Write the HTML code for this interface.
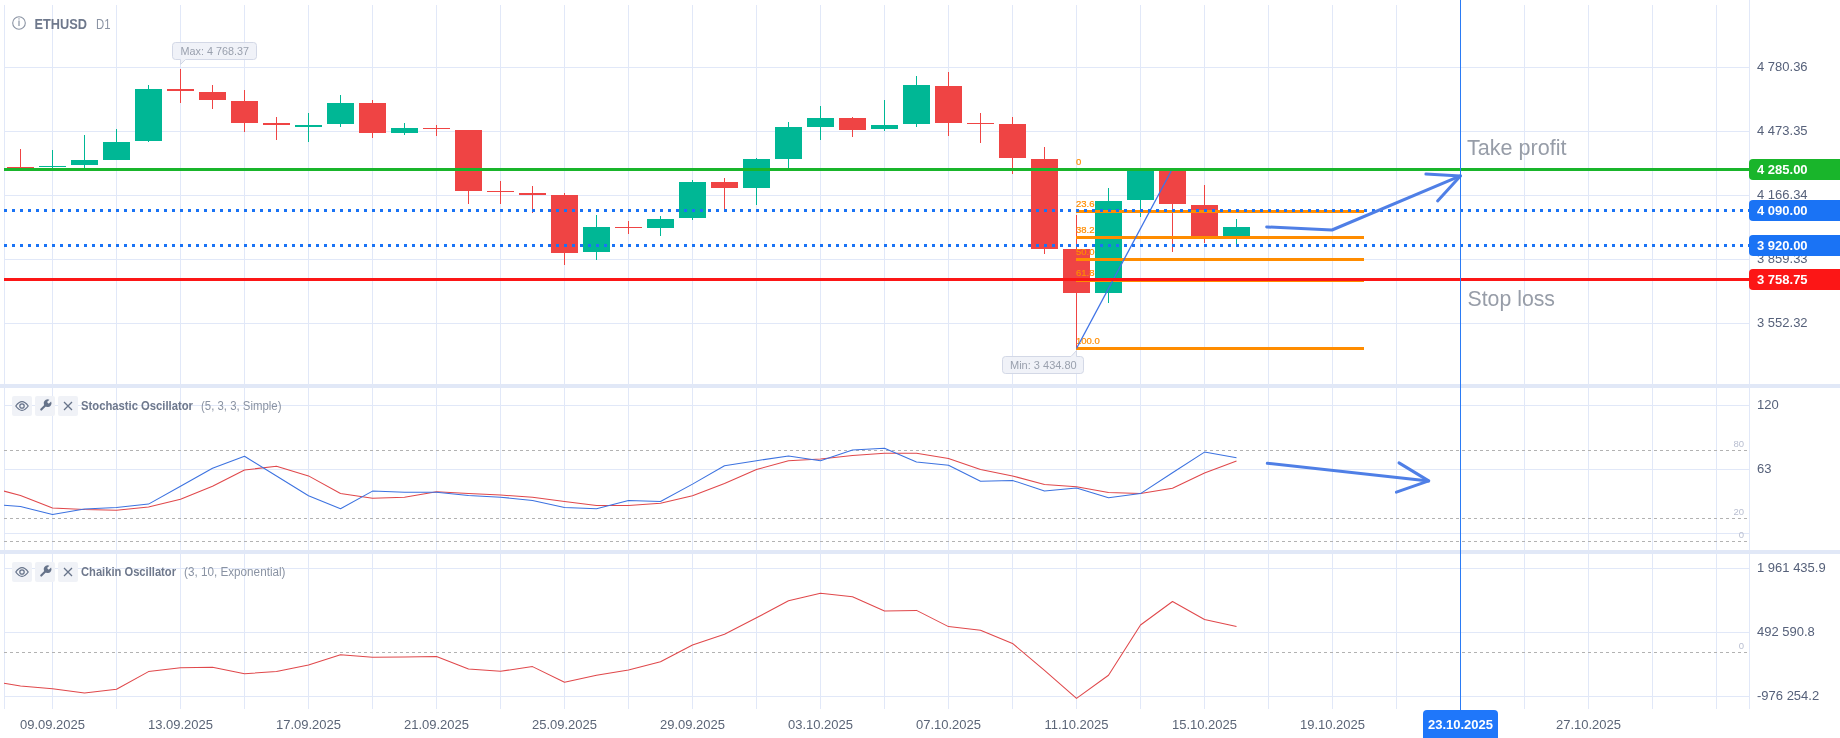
<!DOCTYPE html><html><head><meta charset="utf-8"><style>
html,body{margin:0;padding:0;background:#fff;width:1840px;height:738px;overflow:hidden}
svg{display:block;will-change:transform}
text{font-family:"Liberation Sans", sans-serif}
</style></head><body>
<svg width="1840" height="738" viewBox="0 0 1840 738">
<rect x="0" y="0" width="1840" height="738" fill="#ffffff"/>
<defs>
<clipPath id="cMain"><rect x="4" y="0" width="1745" height="384"/></clipPath>
<clipPath id="cSt"><rect x="4" y="388" width="1745" height="162"/></clipPath>
<clipPath id="cCh"><rect x="4" y="554" width="1745" height="154"/></clipPath>
</defs>
<g shape-rendering="crispEdges" fill="#e1e8f8">
<rect x="4" y="5" width="1" height="704"/>
<rect x="52" y="5" width="1" height="704"/>
<rect x="116" y="5" width="1" height="704"/>
<rect x="180" y="5" width="1" height="704"/>
<rect x="244" y="5" width="1" height="704"/>
<rect x="308" y="5" width="1" height="704"/>
<rect x="372" y="5" width="1" height="704"/>
<rect x="436" y="5" width="1" height="704"/>
<rect x="500" y="5" width="1" height="704"/>
<rect x="564" y="5" width="1" height="704"/>
<rect x="628" y="5" width="1" height="704"/>
<rect x="692" y="5" width="1" height="704"/>
<rect x="756" y="5" width="1" height="704"/>
<rect x="820" y="5" width="1" height="704"/>
<rect x="884" y="5" width="1" height="704"/>
<rect x="948" y="5" width="1" height="704"/>
<rect x="1012" y="5" width="1" height="704"/>
<rect x="1076" y="5" width="1" height="704"/>
<rect x="1140" y="5" width="1" height="704"/>
<rect x="1204" y="5" width="1" height="704"/>
<rect x="1268" y="5" width="1" height="704"/>
<rect x="1332" y="5" width="1" height="704"/>
<rect x="1396" y="5" width="1" height="704"/>
<rect x="1460" y="5" width="1" height="704"/>
<rect x="1524" y="5" width="1" height="704"/>
<rect x="1588" y="5" width="1" height="704"/>
<rect x="1652" y="5" width="1" height="704"/>
<rect x="1716" y="5" width="1" height="704"/>
<rect x="1749" y="0" width="1" height="709"/>
<rect x="4" y="67" width="1745" height="1"/>
<rect x="4" y="131" width="1745" height="1"/>
<rect x="4" y="195" width="1745" height="1"/>
<rect x="4" y="259" width="1745" height="1"/>
<rect x="4" y="323" width="1745" height="1"/>
<rect x="4" y="405" width="1745" height="1"/>
<rect x="4" y="469" width="1745" height="1"/>
<rect x="4" y="533" width="1745" height="1"/>
<rect x="4" y="568" width="1745" height="1"/>
<rect x="4" y="632" width="1745" height="1"/>
<rect x="4" y="696" width="1745" height="1"/>
</g>
<rect x="0" y="384" width="1840" height="4" fill="#e1e8f7" shape-rendering="crispEdges"/>
<rect x="0" y="550" width="1840" height="4" fill="#e1e8f7" shape-rendering="crispEdges"/>
<g clip-path="url(#cMain)" shape-rendering="crispEdges">
<rect x="7" y="167.0" width="27" height="1.0" fill="#ef4444"/>
<rect x="20" y="149.1" width="1" height="18.9" fill="#ef4444"/>
<rect x="39" y="166.0" width="27" height="1.0" fill="#00b795"/>
<rect x="52" y="150.0" width="1" height="19.0" fill="#00b795"/>
<rect x="71" y="160.0" width="27" height="5.0" fill="#00b795"/>
<rect x="84" y="135.1" width="1" height="32.9" fill="#00b795"/>
<rect x="103" y="142.1" width="27" height="17.6" fill="#00b795"/>
<rect x="116" y="129.1" width="1" height="30.6" fill="#00b795"/>
<rect x="135" y="88.9" width="27" height="51.9" fill="#00b795"/>
<rect x="148" y="85.2" width="1" height="56.8" fill="#00b795"/>
<rect x="167" y="89.0" width="27" height="2.0" fill="#ef4444"/>
<rect x="180" y="69.0" width="1" height="33.8" fill="#ef4444"/>
<rect x="199" y="92.0" width="27" height="7.8" fill="#ef4444"/>
<rect x="212" y="85.2" width="1" height="23.7" fill="#ef4444"/>
<rect x="231" y="101.2" width="27" height="21.6" fill="#ef4444"/>
<rect x="244" y="89.9" width="1" height="41.8" fill="#ef4444"/>
<rect x="263" y="123.0" width="27" height="2.0" fill="#ef4444"/>
<rect x="276" y="116.9" width="1" height="23.1" fill="#ef4444"/>
<rect x="295" y="125.0" width="27" height="1.5" fill="#00b795"/>
<rect x="308" y="113.0" width="1" height="28.7" fill="#00b795"/>
<rect x="327" y="103.0" width="27" height="20.8" fill="#00b795"/>
<rect x="340" y="95.1" width="1" height="31.7" fill="#00b795"/>
<rect x="359" y="103.0" width="27" height="29.9" fill="#ef4444"/>
<rect x="372" y="100.0" width="1" height="37.9" fill="#ef4444"/>
<rect x="391" y="128.0" width="27" height="4.9" fill="#00b795"/>
<rect x="404" y="123.0" width="1" height="12.1" fill="#00b795"/>
<rect x="423" y="128.0" width="27" height="1.0" fill="#ef4444"/>
<rect x="436" y="125.0" width="1" height="11.0" fill="#ef4444"/>
<rect x="455" y="130.1" width="27" height="60.7" fill="#ef4444"/>
<rect x="468" y="130.1" width="1" height="73.7" fill="#ef4444"/>
<rect x="487" y="191.0" width="27" height="1.0" fill="#ef4444"/>
<rect x="500" y="180.9" width="1" height="22.9" fill="#ef4444"/>
<rect x="519" y="193.0" width="27" height="2.0" fill="#ef4444"/>
<rect x="532" y="186.0" width="1" height="26.6" fill="#ef4444"/>
<rect x="551" y="195.2" width="27" height="57.6" fill="#ef4444"/>
<rect x="564" y="193.1" width="1" height="71.9" fill="#ef4444"/>
<rect x="583" y="227.0" width="27" height="24.8" fill="#00b795"/>
<rect x="596" y="215.2" width="1" height="44.8" fill="#00b795"/>
<rect x="615" y="227.0" width="27" height="1.0" fill="#ef4444"/>
<rect x="628" y="220.9" width="1" height="13.0" fill="#ef4444"/>
<rect x="647" y="219.1" width="27" height="8.7" fill="#00b795"/>
<rect x="660" y="216.0" width="1" height="19.8" fill="#00b795"/>
<rect x="679" y="181.9" width="27" height="36.0" fill="#00b795"/>
<rect x="692" y="180.0" width="1" height="40.0" fill="#00b795"/>
<rect x="711" y="181.9" width="27" height="5.9" fill="#ef4444"/>
<rect x="724" y="177.9" width="1" height="31.7" fill="#ef4444"/>
<rect x="743" y="159.1" width="27" height="28.7" fill="#00b795"/>
<rect x="756" y="158.3" width="1" height="46.6" fill="#00b795"/>
<rect x="775" y="127.0" width="27" height="31.8" fill="#00b795"/>
<rect x="788" y="122.1" width="1" height="45.7" fill="#00b795"/>
<rect x="807" y="117.9" width="27" height="8.9" fill="#00b795"/>
<rect x="820" y="106.1" width="1" height="33.9" fill="#00b795"/>
<rect x="839" y="117.9" width="27" height="12.0" fill="#ef4444"/>
<rect x="852" y="116.9" width="1" height="20.1" fill="#ef4444"/>
<rect x="871" y="125.0" width="27" height="3.9" fill="#00b795"/>
<rect x="884" y="100.0" width="1" height="31.0" fill="#00b795"/>
<rect x="903" y="85.0" width="27" height="38.8" fill="#00b795"/>
<rect x="916" y="76.0" width="1" height="51.0" fill="#00b795"/>
<rect x="935" y="86.1" width="27" height="36.7" fill="#ef4444"/>
<rect x="948" y="71.9" width="1" height="64.1" fill="#ef4444"/>
<rect x="967" y="123.0" width="27" height="1.0" fill="#ef4444"/>
<rect x="980" y="113.0" width="1" height="30.0" fill="#ef4444"/>
<rect x="999" y="124.0" width="27" height="33.6" fill="#ef4444"/>
<rect x="1012" y="116.9" width="1" height="57.0" fill="#ef4444"/>
<rect x="1031" y="159.1" width="27" height="89.7" fill="#ef4444"/>
<rect x="1044" y="146.9" width="1" height="106.8" fill="#ef4444"/>
<rect x="1063" y="249.1" width="27" height="43.7" fill="#ef4444"/>
<rect x="1076" y="215.0" width="1" height="132.5" fill="#ef4444"/>
<rect x="1095" y="201.2" width="27" height="91.6" fill="#00b795"/>
<rect x="1108" y="188.2" width="1" height="114.5" fill="#00b795"/>
<rect x="1127" y="169.5" width="27" height="30.2" fill="#00b795"/>
<rect x="1140" y="169.5" width="1" height="47.3" fill="#00b795"/>
<rect x="1159" y="169.5" width="27" height="34.2" fill="#ef4444"/>
<rect x="1172" y="169.5" width="1" height="82.5" fill="#ef4444"/>
<rect x="1191" y="205.2" width="27" height="30.7" fill="#ef4444"/>
<rect x="1204" y="185.0" width="1" height="57.7" fill="#ef4444"/>
<rect x="1223" y="227.1" width="27" height="8.7" fill="#00b795"/>
<rect x="1236" y="219.0" width="1" height="25.5" fill="#00b795"/>
</g>
<g shape-rendering="crispEdges" fill="#ff8c00">
<rect x="1076" y="168.0" width="288" height="3"/>
<rect x="1076" y="210.0" width="288" height="3"/>
<rect x="1076" y="236.0" width="288" height="3"/>
<rect x="1076" y="258.0" width="288" height="3"/>
<rect x="1076" y="278.5" width="288" height="3"/>
<rect x="1076" y="347.0" width="288" height="3"/>
</g>
<g fill="#ff8c00" stroke="#ff8c00" stroke-width="0.2" font-size="9.5">
<text x="1076" y="164.7">0</text>
<text x="1076" y="207.4">23.6</text>
<text x="1076" y="233.2">38.2</text>
<text x="1076" y="254.8">50.0</text>
<text x="1076" y="276.1">61.8</text>
<text x="1076" y="343.8">100.0</text>
</g>
<line x1="1076.5" y1="348.5" x2="1172" y2="169.5" stroke="#3f73e6" stroke-width="1.3"/>
<rect x="4" y="168" width="1745" height="3" fill="#19b52b" shape-rendering="crispEdges"/>
<rect x="4" y="278" width="1745" height="3" fill="#fc1616" shape-rendering="crispEdges"/>
<g fill="#1a73f5" shape-rendering="crispEdges"><rect x="4" y="209" width="3" height="3"/><rect x="12" y="209" width="3" height="3"/><rect x="20" y="209" width="3" height="3"/><rect x="28" y="209" width="3" height="3"/><rect x="36" y="209" width="3" height="3"/><rect x="44" y="209" width="3" height="3"/><rect x="52" y="209" width="3" height="3"/><rect x="60" y="209" width="3" height="3"/><rect x="68" y="209" width="3" height="3"/><rect x="76" y="209" width="3" height="3"/><rect x="84" y="209" width="3" height="3"/><rect x="92" y="209" width="3" height="3"/><rect x="100" y="209" width="3" height="3"/><rect x="108" y="209" width="3" height="3"/><rect x="116" y="209" width="3" height="3"/><rect x="124" y="209" width="3" height="3"/><rect x="132" y="209" width="3" height="3"/><rect x="140" y="209" width="3" height="3"/><rect x="148" y="209" width="3" height="3"/><rect x="156" y="209" width="3" height="3"/><rect x="164" y="209" width="3" height="3"/><rect x="172" y="209" width="3" height="3"/><rect x="180" y="209" width="3" height="3"/><rect x="188" y="209" width="3" height="3"/><rect x="196" y="209" width="3" height="3"/><rect x="204" y="209" width="3" height="3"/><rect x="212" y="209" width="3" height="3"/><rect x="220" y="209" width="3" height="3"/><rect x="228" y="209" width="3" height="3"/><rect x="236" y="209" width="3" height="3"/><rect x="244" y="209" width="3" height="3"/><rect x="252" y="209" width="3" height="3"/><rect x="260" y="209" width="3" height="3"/><rect x="268" y="209" width="3" height="3"/><rect x="276" y="209" width="3" height="3"/><rect x="284" y="209" width="3" height="3"/><rect x="292" y="209" width="3" height="3"/><rect x="300" y="209" width="3" height="3"/><rect x="308" y="209" width="3" height="3"/><rect x="316" y="209" width="3" height="3"/><rect x="324" y="209" width="3" height="3"/><rect x="332" y="209" width="3" height="3"/><rect x="340" y="209" width="3" height="3"/><rect x="348" y="209" width="3" height="3"/><rect x="356" y="209" width="3" height="3"/><rect x="364" y="209" width="3" height="3"/><rect x="372" y="209" width="3" height="3"/><rect x="380" y="209" width="3" height="3"/><rect x="388" y="209" width="3" height="3"/><rect x="396" y="209" width="3" height="3"/><rect x="404" y="209" width="3" height="3"/><rect x="412" y="209" width="3" height="3"/><rect x="420" y="209" width="3" height="3"/><rect x="428" y="209" width="3" height="3"/><rect x="436" y="209" width="3" height="3"/><rect x="444" y="209" width="3" height="3"/><rect x="452" y="209" width="3" height="3"/><rect x="460" y="209" width="3" height="3"/><rect x="468" y="209" width="3" height="3"/><rect x="476" y="209" width="3" height="3"/><rect x="484" y="209" width="3" height="3"/><rect x="492" y="209" width="3" height="3"/><rect x="500" y="209" width="3" height="3"/><rect x="508" y="209" width="3" height="3"/><rect x="516" y="209" width="3" height="3"/><rect x="524" y="209" width="3" height="3"/><rect x="532" y="209" width="3" height="3"/><rect x="540" y="209" width="3" height="3"/><rect x="548" y="209" width="3" height="3"/><rect x="556" y="209" width="3" height="3"/><rect x="564" y="209" width="3" height="3"/><rect x="572" y="209" width="3" height="3"/><rect x="580" y="209" width="3" height="3"/><rect x="588" y="209" width="3" height="3"/><rect x="596" y="209" width="3" height="3"/><rect x="604" y="209" width="3" height="3"/><rect x="612" y="209" width="3" height="3"/><rect x="620" y="209" width="3" height="3"/><rect x="628" y="209" width="3" height="3"/><rect x="636" y="209" width="3" height="3"/><rect x="644" y="209" width="3" height="3"/><rect x="652" y="209" width="3" height="3"/><rect x="660" y="209" width="3" height="3"/><rect x="668" y="209" width="3" height="3"/><rect x="676" y="209" width="3" height="3"/><rect x="684" y="209" width="3" height="3"/><rect x="692" y="209" width="3" height="3"/><rect x="700" y="209" width="3" height="3"/><rect x="708" y="209" width="3" height="3"/><rect x="716" y="209" width="3" height="3"/><rect x="724" y="209" width="3" height="3"/><rect x="732" y="209" width="3" height="3"/><rect x="740" y="209" width="3" height="3"/><rect x="748" y="209" width="3" height="3"/><rect x="756" y="209" width="3" height="3"/><rect x="764" y="209" width="3" height="3"/><rect x="772" y="209" width="3" height="3"/><rect x="780" y="209" width="3" height="3"/><rect x="788" y="209" width="3" height="3"/><rect x="796" y="209" width="3" height="3"/><rect x="804" y="209" width="3" height="3"/><rect x="812" y="209" width="3" height="3"/><rect x="820" y="209" width="3" height="3"/><rect x="828" y="209" width="3" height="3"/><rect x="836" y="209" width="3" height="3"/><rect x="844" y="209" width="3" height="3"/><rect x="852" y="209" width="3" height="3"/><rect x="860" y="209" width="3" height="3"/><rect x="868" y="209" width="3" height="3"/><rect x="876" y="209" width="3" height="3"/><rect x="884" y="209" width="3" height="3"/><rect x="892" y="209" width="3" height="3"/><rect x="900" y="209" width="3" height="3"/><rect x="908" y="209" width="3" height="3"/><rect x="916" y="209" width="3" height="3"/><rect x="924" y="209" width="3" height="3"/><rect x="932" y="209" width="3" height="3"/><rect x="940" y="209" width="3" height="3"/><rect x="948" y="209" width="3" height="3"/><rect x="956" y="209" width="3" height="3"/><rect x="964" y="209" width="3" height="3"/><rect x="972" y="209" width="3" height="3"/><rect x="980" y="209" width="3" height="3"/><rect x="988" y="209" width="3" height="3"/><rect x="996" y="209" width="3" height="3"/><rect x="1004" y="209" width="3" height="3"/><rect x="1012" y="209" width="3" height="3"/><rect x="1020" y="209" width="3" height="3"/><rect x="1028" y="209" width="3" height="3"/><rect x="1036" y="209" width="3" height="3"/><rect x="1044" y="209" width="3" height="3"/><rect x="1052" y="209" width="3" height="3"/><rect x="1060" y="209" width="3" height="3"/><rect x="1068" y="209" width="3" height="3"/><rect x="1076" y="209" width="3" height="3"/><rect x="1084" y="209" width="3" height="3"/><rect x="1092" y="209" width="3" height="3"/><rect x="1100" y="209" width="3" height="3"/><rect x="1108" y="209" width="3" height="3"/><rect x="1116" y="209" width="3" height="3"/><rect x="1124" y="209" width="3" height="3"/><rect x="1132" y="209" width="3" height="3"/><rect x="1140" y="209" width="3" height="3"/><rect x="1148" y="209" width="3" height="3"/><rect x="1156" y="209" width="3" height="3"/><rect x="1164" y="209" width="3" height="3"/><rect x="1172" y="209" width="3" height="3"/><rect x="1180" y="209" width="3" height="3"/><rect x="1188" y="209" width="3" height="3"/><rect x="1196" y="209" width="3" height="3"/><rect x="1204" y="209" width="3" height="3"/><rect x="1212" y="209" width="3" height="3"/><rect x="1220" y="209" width="3" height="3"/><rect x="1228" y="209" width="3" height="3"/><rect x="1236" y="209" width="3" height="3"/><rect x="1244" y="209" width="3" height="3"/><rect x="1252" y="209" width="3" height="3"/><rect x="1260" y="209" width="3" height="3"/><rect x="1268" y="209" width="3" height="3"/><rect x="1276" y="209" width="3" height="3"/><rect x="1284" y="209" width="3" height="3"/><rect x="1292" y="209" width="3" height="3"/><rect x="1300" y="209" width="3" height="3"/><rect x="1308" y="209" width="3" height="3"/><rect x="1316" y="209" width="3" height="3"/><rect x="1324" y="209" width="3" height="3"/><rect x="1332" y="209" width="3" height="3"/><rect x="1340" y="209" width="3" height="3"/><rect x="1348" y="209" width="3" height="3"/><rect x="1356" y="209" width="3" height="3"/><rect x="1364" y="209" width="3" height="3"/><rect x="1372" y="209" width="3" height="3"/><rect x="1380" y="209" width="3" height="3"/><rect x="1388" y="209" width="3" height="3"/><rect x="1396" y="209" width="3" height="3"/><rect x="1404" y="209" width="3" height="3"/><rect x="1412" y="209" width="3" height="3"/><rect x="1420" y="209" width="3" height="3"/><rect x="1428" y="209" width="3" height="3"/><rect x="1436" y="209" width="3" height="3"/><rect x="1444" y="209" width="3" height="3"/><rect x="1452" y="209" width="3" height="3"/><rect x="1460" y="209" width="3" height="3"/><rect x="1468" y="209" width="3" height="3"/><rect x="1476" y="209" width="3" height="3"/><rect x="1484" y="209" width="3" height="3"/><rect x="1492" y="209" width="3" height="3"/><rect x="1500" y="209" width="3" height="3"/><rect x="1508" y="209" width="3" height="3"/><rect x="1516" y="209" width="3" height="3"/><rect x="1524" y="209" width="3" height="3"/><rect x="1532" y="209" width="3" height="3"/><rect x="1540" y="209" width="3" height="3"/><rect x="1548" y="209" width="3" height="3"/><rect x="1556" y="209" width="3" height="3"/><rect x="1564" y="209" width="3" height="3"/><rect x="1572" y="209" width="3" height="3"/><rect x="1580" y="209" width="3" height="3"/><rect x="1588" y="209" width="3" height="3"/><rect x="1596" y="209" width="3" height="3"/><rect x="1604" y="209" width="3" height="3"/><rect x="1612" y="209" width="3" height="3"/><rect x="1620" y="209" width="3" height="3"/><rect x="1628" y="209" width="3" height="3"/><rect x="1636" y="209" width="3" height="3"/><rect x="1644" y="209" width="3" height="3"/><rect x="1652" y="209" width="3" height="3"/><rect x="1660" y="209" width="3" height="3"/><rect x="1668" y="209" width="3" height="3"/><rect x="1676" y="209" width="3" height="3"/><rect x="1684" y="209" width="3" height="3"/><rect x="1692" y="209" width="3" height="3"/><rect x="1700" y="209" width="3" height="3"/><rect x="1708" y="209" width="3" height="3"/><rect x="1716" y="209" width="3" height="3"/><rect x="1724" y="209" width="3" height="3"/><rect x="1732" y="209" width="3" height="3"/><rect x="1740" y="209" width="3" height="3"/><rect x="1748" y="209" width="3" height="3"/><rect x="4" y="244" width="3" height="3"/><rect x="12" y="244" width="3" height="3"/><rect x="20" y="244" width="3" height="3"/><rect x="28" y="244" width="3" height="3"/><rect x="36" y="244" width="3" height="3"/><rect x="44" y="244" width="3" height="3"/><rect x="52" y="244" width="3" height="3"/><rect x="60" y="244" width="3" height="3"/><rect x="68" y="244" width="3" height="3"/><rect x="76" y="244" width="3" height="3"/><rect x="84" y="244" width="3" height="3"/><rect x="92" y="244" width="3" height="3"/><rect x="100" y="244" width="3" height="3"/><rect x="108" y="244" width="3" height="3"/><rect x="116" y="244" width="3" height="3"/><rect x="124" y="244" width="3" height="3"/><rect x="132" y="244" width="3" height="3"/><rect x="140" y="244" width="3" height="3"/><rect x="148" y="244" width="3" height="3"/><rect x="156" y="244" width="3" height="3"/><rect x="164" y="244" width="3" height="3"/><rect x="172" y="244" width="3" height="3"/><rect x="180" y="244" width="3" height="3"/><rect x="188" y="244" width="3" height="3"/><rect x="196" y="244" width="3" height="3"/><rect x="204" y="244" width="3" height="3"/><rect x="212" y="244" width="3" height="3"/><rect x="220" y="244" width="3" height="3"/><rect x="228" y="244" width="3" height="3"/><rect x="236" y="244" width="3" height="3"/><rect x="244" y="244" width="3" height="3"/><rect x="252" y="244" width="3" height="3"/><rect x="260" y="244" width="3" height="3"/><rect x="268" y="244" width="3" height="3"/><rect x="276" y="244" width="3" height="3"/><rect x="284" y="244" width="3" height="3"/><rect x="292" y="244" width="3" height="3"/><rect x="300" y="244" width="3" height="3"/><rect x="308" y="244" width="3" height="3"/><rect x="316" y="244" width="3" height="3"/><rect x="324" y="244" width="3" height="3"/><rect x="332" y="244" width="3" height="3"/><rect x="340" y="244" width="3" height="3"/><rect x="348" y="244" width="3" height="3"/><rect x="356" y="244" width="3" height="3"/><rect x="364" y="244" width="3" height="3"/><rect x="372" y="244" width="3" height="3"/><rect x="380" y="244" width="3" height="3"/><rect x="388" y="244" width="3" height="3"/><rect x="396" y="244" width="3" height="3"/><rect x="404" y="244" width="3" height="3"/><rect x="412" y="244" width="3" height="3"/><rect x="420" y="244" width="3" height="3"/><rect x="428" y="244" width="3" height="3"/><rect x="436" y="244" width="3" height="3"/><rect x="444" y="244" width="3" height="3"/><rect x="452" y="244" width="3" height="3"/><rect x="460" y="244" width="3" height="3"/><rect x="468" y="244" width="3" height="3"/><rect x="476" y="244" width="3" height="3"/><rect x="484" y="244" width="3" height="3"/><rect x="492" y="244" width="3" height="3"/><rect x="500" y="244" width="3" height="3"/><rect x="508" y="244" width="3" height="3"/><rect x="516" y="244" width="3" height="3"/><rect x="524" y="244" width="3" height="3"/><rect x="532" y="244" width="3" height="3"/><rect x="540" y="244" width="3" height="3"/><rect x="548" y="244" width="3" height="3"/><rect x="556" y="244" width="3" height="3"/><rect x="564" y="244" width="3" height="3"/><rect x="572" y="244" width="3" height="3"/><rect x="580" y="244" width="3" height="3"/><rect x="588" y="244" width="3" height="3"/><rect x="596" y="244" width="3" height="3"/><rect x="604" y="244" width="3" height="3"/><rect x="612" y="244" width="3" height="3"/><rect x="620" y="244" width="3" height="3"/><rect x="628" y="244" width="3" height="3"/><rect x="636" y="244" width="3" height="3"/><rect x="644" y="244" width="3" height="3"/><rect x="652" y="244" width="3" height="3"/><rect x="660" y="244" width="3" height="3"/><rect x="668" y="244" width="3" height="3"/><rect x="676" y="244" width="3" height="3"/><rect x="684" y="244" width="3" height="3"/><rect x="692" y="244" width="3" height="3"/><rect x="700" y="244" width="3" height="3"/><rect x="708" y="244" width="3" height="3"/><rect x="716" y="244" width="3" height="3"/><rect x="724" y="244" width="3" height="3"/><rect x="732" y="244" width="3" height="3"/><rect x="740" y="244" width="3" height="3"/><rect x="748" y="244" width="3" height="3"/><rect x="756" y="244" width="3" height="3"/><rect x="764" y="244" width="3" height="3"/><rect x="772" y="244" width="3" height="3"/><rect x="780" y="244" width="3" height="3"/><rect x="788" y="244" width="3" height="3"/><rect x="796" y="244" width="3" height="3"/><rect x="804" y="244" width="3" height="3"/><rect x="812" y="244" width="3" height="3"/><rect x="820" y="244" width="3" height="3"/><rect x="828" y="244" width="3" height="3"/><rect x="836" y="244" width="3" height="3"/><rect x="844" y="244" width="3" height="3"/><rect x="852" y="244" width="3" height="3"/><rect x="860" y="244" width="3" height="3"/><rect x="868" y="244" width="3" height="3"/><rect x="876" y="244" width="3" height="3"/><rect x="884" y="244" width="3" height="3"/><rect x="892" y="244" width="3" height="3"/><rect x="900" y="244" width="3" height="3"/><rect x="908" y="244" width="3" height="3"/><rect x="916" y="244" width="3" height="3"/><rect x="924" y="244" width="3" height="3"/><rect x="932" y="244" width="3" height="3"/><rect x="940" y="244" width="3" height="3"/><rect x="948" y="244" width="3" height="3"/><rect x="956" y="244" width="3" height="3"/><rect x="964" y="244" width="3" height="3"/><rect x="972" y="244" width="3" height="3"/><rect x="980" y="244" width="3" height="3"/><rect x="988" y="244" width="3" height="3"/><rect x="996" y="244" width="3" height="3"/><rect x="1004" y="244" width="3" height="3"/><rect x="1012" y="244" width="3" height="3"/><rect x="1020" y="244" width="3" height="3"/><rect x="1028" y="244" width="3" height="3"/><rect x="1036" y="244" width="3" height="3"/><rect x="1044" y="244" width="3" height="3"/><rect x="1052" y="244" width="3" height="3"/><rect x="1060" y="244" width="3" height="3"/><rect x="1068" y="244" width="3" height="3"/><rect x="1076" y="244" width="3" height="3"/><rect x="1084" y="244" width="3" height="3"/><rect x="1092" y="244" width="3" height="3"/><rect x="1100" y="244" width="3" height="3"/><rect x="1108" y="244" width="3" height="3"/><rect x="1116" y="244" width="3" height="3"/><rect x="1124" y="244" width="3" height="3"/><rect x="1132" y="244" width="3" height="3"/><rect x="1140" y="244" width="3" height="3"/><rect x="1148" y="244" width="3" height="3"/><rect x="1156" y="244" width="3" height="3"/><rect x="1164" y="244" width="3" height="3"/><rect x="1172" y="244" width="3" height="3"/><rect x="1180" y="244" width="3" height="3"/><rect x="1188" y="244" width="3" height="3"/><rect x="1196" y="244" width="3" height="3"/><rect x="1204" y="244" width="3" height="3"/><rect x="1212" y="244" width="3" height="3"/><rect x="1220" y="244" width="3" height="3"/><rect x="1228" y="244" width="3" height="3"/><rect x="1236" y="244" width="3" height="3"/><rect x="1244" y="244" width="3" height="3"/><rect x="1252" y="244" width="3" height="3"/><rect x="1260" y="244" width="3" height="3"/><rect x="1268" y="244" width="3" height="3"/><rect x="1276" y="244" width="3" height="3"/><rect x="1284" y="244" width="3" height="3"/><rect x="1292" y="244" width="3" height="3"/><rect x="1300" y="244" width="3" height="3"/><rect x="1308" y="244" width="3" height="3"/><rect x="1316" y="244" width="3" height="3"/><rect x="1324" y="244" width="3" height="3"/><rect x="1332" y="244" width="3" height="3"/><rect x="1340" y="244" width="3" height="3"/><rect x="1348" y="244" width="3" height="3"/><rect x="1356" y="244" width="3" height="3"/><rect x="1364" y="244" width="3" height="3"/><rect x="1372" y="244" width="3" height="3"/><rect x="1380" y="244" width="3" height="3"/><rect x="1388" y="244" width="3" height="3"/><rect x="1396" y="244" width="3" height="3"/><rect x="1404" y="244" width="3" height="3"/><rect x="1412" y="244" width="3" height="3"/><rect x="1420" y="244" width="3" height="3"/><rect x="1428" y="244" width="3" height="3"/><rect x="1436" y="244" width="3" height="3"/><rect x="1444" y="244" width="3" height="3"/><rect x="1452" y="244" width="3" height="3"/><rect x="1460" y="244" width="3" height="3"/><rect x="1468" y="244" width="3" height="3"/><rect x="1476" y="244" width="3" height="3"/><rect x="1484" y="244" width="3" height="3"/><rect x="1492" y="244" width="3" height="3"/><rect x="1500" y="244" width="3" height="3"/><rect x="1508" y="244" width="3" height="3"/><rect x="1516" y="244" width="3" height="3"/><rect x="1524" y="244" width="3" height="3"/><rect x="1532" y="244" width="3" height="3"/><rect x="1540" y="244" width="3" height="3"/><rect x="1548" y="244" width="3" height="3"/><rect x="1556" y="244" width="3" height="3"/><rect x="1564" y="244" width="3" height="3"/><rect x="1572" y="244" width="3" height="3"/><rect x="1580" y="244" width="3" height="3"/><rect x="1588" y="244" width="3" height="3"/><rect x="1596" y="244" width="3" height="3"/><rect x="1604" y="244" width="3" height="3"/><rect x="1612" y="244" width="3" height="3"/><rect x="1620" y="244" width="3" height="3"/><rect x="1628" y="244" width="3" height="3"/><rect x="1636" y="244" width="3" height="3"/><rect x="1644" y="244" width="3" height="3"/><rect x="1652" y="244" width="3" height="3"/><rect x="1660" y="244" width="3" height="3"/><rect x="1668" y="244" width="3" height="3"/><rect x="1676" y="244" width="3" height="3"/><rect x="1684" y="244" width="3" height="3"/><rect x="1692" y="244" width="3" height="3"/><rect x="1700" y="244" width="3" height="3"/><rect x="1708" y="244" width="3" height="3"/><rect x="1716" y="244" width="3" height="3"/><rect x="1724" y="244" width="3" height="3"/><rect x="1732" y="244" width="3" height="3"/><rect x="1740" y="244" width="3" height="3"/><rect x="1748" y="244" width="3" height="3"/></g>
<g fill="none" stroke="#4f7fe6" stroke-width="3" stroke-linecap="round" stroke-linejoin="round">
<polyline points="1266.7,226.9 1332,230 1460.4,175.9"/>
<polyline points="1425.9,174 1460.4,176 1437.6,201"/>
<polyline points="1267.3,463.3 1428.7,480.9"/>
<polyline points="1399,462.9 1428.7,480.9 1396.4,492.2"/>
</g>
<path d="M175.5,42.5 H253.5 Q256.5,42.5 256.5,45.5 V56.5 Q256.5,59.5 253.5,59.5 H185.5 L180.5,64.5 V59.5 H175.5 Q172.5,59.5 172.5,56.5 V45.5 Q172.5,42.5 175.5,42.5 Z" fill="#eef1f7" fill-opacity="0.9" stroke="#d3d8e6" stroke-width="1"/>
<text x="180.5" y="55" font-size="11" fill="#9aa1ae" textLength="68.5" lengthAdjust="spacingAndGlyphs">Max: 4 768.37</text>
<path d="M1005.5,356.5 H1071 L1076.5,350.5 V356.5 H1080.5 Q1083.5,356.5 1083.5,359.5 V370.5 Q1083.5,373.5 1080.5,373.5 H1005.5 Q1002.5,373.5 1002.5,370.5 V359.5 Q1002.5,356.5 1005.5,356.5 Z" fill="#eef1f7" fill-opacity="0.9" stroke="#d3d8e6" stroke-width="1"/>
<text x="1010" y="369" font-size="11" fill="#9aa1ae">Min: 3 434.80</text>
<text x="1467" y="155" font-size="22" fill="#979da8" textLength="99.5" lengthAdjust="spacingAndGlyphs">Take profit</text>
<text x="1467.5" y="305.6" font-size="22" fill="#979da8" textLength="87.5" lengthAdjust="spacingAndGlyphs">Stop loss</text>
<g stroke="#b2b2b2" stroke-width="1" stroke-dasharray="3 3" shape-rendering="crispEdges">
<line x1="4" y1="450.5" x2="1748" y2="450.5"/>
<line x1="4" y1="518.5" x2="1748" y2="518.5"/>
<line x1="4" y1="541.5" x2="1748" y2="541.5"/>
<line x1="4" y1="652.5" x2="1748" y2="652.5"/>
</g>
<g font-size="9.5" fill="#b8bed0" text-anchor="end">
<text x="1744" y="447">80</text><text x="1744" y="515">20</text><text x="1744" y="538">0</text><text x="1744" y="649">0</text>
</g>
<polyline clip-path="url(#cSt)" points="4.0,491.1 20.5,495.4 52.5,508.0 84.5,509.6 116.5,510.2 148.5,507.0 180.5,499.3 212.5,486.3 244.5,470.0 276.5,466.3 308.5,475.9 340.5,493.5 372.5,498.3 404.5,497.2 436.5,491.7 468.5,493.5 500.5,495.0 532.5,497.2 564.5,501.5 596.5,505.4 628.5,505.4 660.5,503.3 692.5,495.7 724.5,483.5 756.5,469.6 788.5,460.7 820.5,459.1 852.5,455.4 884.5,453.3 916.5,453.3 948.5,458.5 980.5,469.6 1012.5,475.9 1044.5,484.6 1076.5,486.7 1108.5,492.4 1140.5,493.6 1172.5,488.3 1204.5,473.0 1236.5,460.9" fill="none" stroke="#e0484b" stroke-width="1.05" stroke-linejoin="round"/>
<polyline clip-path="url(#cSt)" points="4.0,505.2 20.5,506.5 52.5,514.6 84.5,509.1 116.5,507.4 148.5,504.1 180.5,486.3 212.5,468.3 244.5,456.3 276.5,476.0 308.5,495.7 340.5,508.7 372.5,491.1 404.5,492.2 436.5,492.2 468.5,495.4 500.5,497.2 532.5,500.4 564.5,507.4 596.5,508.7 628.5,500.4 660.5,501.5 692.5,484.1 724.5,465.7 756.5,460.7 788.5,455.9 820.5,460.7 852.5,450.0 884.5,448.3 916.5,462.0 948.5,465.2 980.5,481.3 1012.5,480.4 1044.5,491.1 1076.5,488.0 1108.5,497.8 1140.5,493.6 1172.5,472.8 1204.5,452.1 1236.5,457.8" fill="none" stroke="#3c72e0" stroke-width="1.05" stroke-linejoin="round"/>
<polyline clip-path="url(#cCh)" points="4.0,683.3 20.5,686.0 52.5,688.8 84.5,692.9 116.5,689.3 148.5,671.6 180.5,667.8 212.5,667.3 244.5,673.7 276.5,671.6 308.5,664.9 340.5,654.8 372.5,657.2 404.5,657.0 436.5,656.5 468.5,669.0 500.5,671.3 532.5,666.6 564.5,682.3 596.5,675.2 628.5,670.1 660.5,661.8 692.5,645.0 724.5,634.3 756.5,617.8 788.5,600.8 820.5,593.2 852.5,596.7 884.5,611.1 916.5,610.4 948.5,626.6 980.5,630.2 1012.5,643.4 1044.5,670.4 1076.5,698.4 1108.5,675.2 1140.5,625.0 1172.5,601.5 1204.5,619.5 1236.5,626.6" fill="none" stroke="#e0484b" stroke-width="1.05" stroke-linejoin="round"/>
<rect x="1460" y="0" width="1" height="710" fill="#2a7bf5" shape-rendering="crispEdges"/>
<g font-size="13" fill="#56617a">
<text x="1757" y="70.7">4 780.36</text>
<text x="1757" y="134.7">4 473.35</text>
<text x="1757" y="198.7">4 166.34</text>
<text x="1757" y="262.7">3 859.33</text>
<text x="1757" y="326.7">3 552.32</text>
<text x="1757" y="408.7">120</text>
<text x="1757" y="472.7">63</text>
<text x="1757" y="571.7">1 961 435.9</text>
<text x="1757" y="635.7">492 590.8</text>
<text x="1757" y="699.7">-976 254.2</text>
</g>
<path d="M1753,159 H1840 V180 H1753 Q1749,180 1749,176 V163 Q1749,159 1753,159 Z" fill="#19b52b"/><text x="1757" y="174.1" font-size="13" font-weight="bold" fill="#ffffff">4 285.00</text>
<path d="M1753,200 H1840 V221 H1753 Q1749,221 1749,217 V204 Q1749,200 1753,200 Z" fill="#1a73f5"/><text x="1757" y="215.1" font-size="13" font-weight="bold" fill="#ffffff">4 090.00</text>
<path d="M1753,235 H1840 V256 H1753 Q1749,256 1749,252 V239 Q1749,235 1753,235 Z" fill="#1a73f5"/><text x="1757" y="250.1" font-size="13" font-weight="bold" fill="#ffffff">3 920.00</text>
<path d="M1753,269 H1840 V290 H1753 Q1749,290 1749,286 V273 Q1749,269 1753,269 Z" fill="#fc1616"/><text x="1757" y="284.1" font-size="13" font-weight="bold" fill="#ffffff">3 758.75</text>
<g font-size="13" fill="#5b6577" text-anchor="middle">
<text x="52.5" y="729">09.09.2025</text>
<text x="180.5" y="729">13.09.2025</text>
<text x="308.5" y="729">17.09.2025</text>
<text x="436.5" y="729">21.09.2025</text>
<text x="564.5" y="729">25.09.2025</text>
<text x="692.5" y="729">29.09.2025</text>
<text x="820.5" y="729">03.10.2025</text>
<text x="948.5" y="729">07.10.2025</text>
<text x="1076.5" y="729">11.10.2025</text>
<text x="1204.5" y="729">15.10.2025</text>
<text x="1332.5" y="729">19.10.2025</text>
<text x="1588.5" y="729">27.10.2025</text>
</g>
<path d="M1427,710 H1494 Q1498,710 1498,714 V738 H1423 V714 Q1423,710 1427,710 Z" fill="#1f77fa"/>
<text x="1460.5" y="729" font-size="13" font-weight="bold" fill="#ffffff" text-anchor="middle">23.10.2025</text>
<circle cx="19" cy="23" r="6.3" fill="none" stroke="#8a93a3" stroke-width="1.1"/>
<rect x="18.4" y="20.5" width="1.2" height="5.5" fill="#8a93a3"/><rect x="18.4" y="18.3" width="1.2" height="1.2" fill="#8a93a3"/>
<text x="34.5" y="29" font-size="14" font-weight="bold" fill="#6e788c" textLength="52.5" lengthAdjust="spacingAndGlyphs">ETHUSD</text>
<text x="96" y="29" font-size="14" fill="#8a93a3" textLength="14.5" lengthAdjust="spacingAndGlyphs">D1</text>
<rect x="12" y="396" width="20" height="20" rx="2" fill="#f0f2f7"/><rect x="35" y="396" width="20" height="20" rx="2" fill="#f0f2f7"/><rect x="58" y="396" width="20" height="20" rx="2" fill="#f0f2f7"/><path d="M15.8,406.0 Q22,397.2 28.2,406.0 Q22,414.8 15.8,406.0 Z" fill="none" stroke="#66738a" stroke-width="1.25"/><circle cx="22" cy="406.0" r="2.2" fill="none" stroke="#66738a" stroke-width="1.25"/><g transform="translate(47.6,403.2) rotate(-45)"><rect x="-10" y="-1.05" width="8" height="2.1" rx="1" fill="#66738a"/><path d="M0.4,-1.2 H3.71 A3.9,3.9 0 1 0 3.71,1.2 H0.4 Z" fill="#66738a"/></g><path d="M64,402.0 L72,410.0 M72,402.0 L64,410.0" stroke="#66738a" stroke-width="1.3"/><text x="81" y="409.7" font-size="12" font-weight="bold" fill="#6e788c" textLength="112.0" lengthAdjust="spacingAndGlyphs">Stochastic Oscillator</text><text x="201.0" y="409.7" font-size="12" fill="#8a93a3" textLength="80.5" lengthAdjust="spacingAndGlyphs">(5, 3, 3, Simple)</text>
<rect x="12" y="562" width="20" height="20" rx="2" fill="#f0f2f7"/><rect x="35" y="562" width="20" height="20" rx="2" fill="#f0f2f7"/><rect x="58" y="562" width="20" height="20" rx="2" fill="#f0f2f7"/><path d="M15.8,572.0 Q22,563.2 28.2,572.0 Q22,580.8 15.8,572.0 Z" fill="none" stroke="#66738a" stroke-width="1.25"/><circle cx="22" cy="572.0" r="2.2" fill="none" stroke="#66738a" stroke-width="1.25"/><g transform="translate(47.6,569.2) rotate(-45)"><rect x="-10" y="-1.05" width="8" height="2.1" rx="1" fill="#66738a"/><path d="M0.4,-1.2 H3.71 A3.9,3.9 0 1 0 3.71,1.2 H0.4 Z" fill="#66738a"/></g><path d="M64,568.0 L72,576.0 M72,568.0 L64,576.0" stroke="#66738a" stroke-width="1.3"/><text x="81" y="575.7" font-size="12" font-weight="bold" fill="#6e788c" textLength="95.0" lengthAdjust="spacingAndGlyphs">Chaikin Oscillator</text><text x="184.0" y="575.7" font-size="12" fill="#8a93a3" textLength="101.5" lengthAdjust="spacingAndGlyphs">(3, 10, Exponential)</text>
</svg></body></html>
